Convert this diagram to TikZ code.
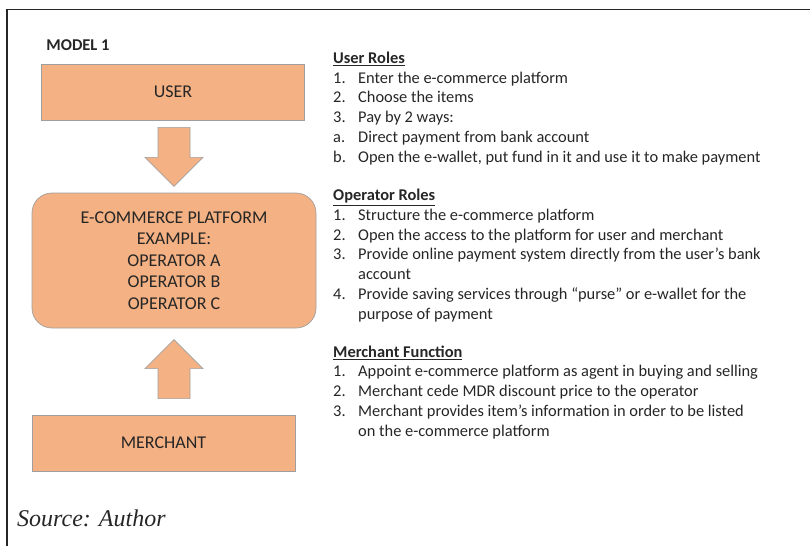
\documentclass[tikz,border=0pt]{standalone}
\usepackage{fontspec}
\setmainfont{Carlito}
\newfontfamily\srcfont{Liberation Serif}
\usetikzlibrary{calc}
\definecolor{boxfill}{RGB}{244,177,131}
\definecolor{textgray}{RGB}{38,38,38}

\begin{document}
\begin{tikzpicture}[
  x=1pt,y=-1pt,
  box/.style={draw=gray!75,fill=boxfill,line width=0.7pt,minimum width=263,minimum height=56,
    inner sep=0pt,text=textgray,font=\fontsize{18}{21.5}\selectfont},
  platform/.style={box,rounded corners=20,minimum width=284,minimum height=135,align=center},
  fatfill/.style={draw=gray!75,fill=boxfill,line width=0.6pt},
  roles/.style={anchor=base west,align=left,inner sep=0pt,text=textgray,
    font=\fontsize{16.4}{19.7}\selectfont},
  fatarrow/.pic={\path[fatfill] (-16,0) -- (16,0) -- (16,30) -- (29,30) -- (0,59) -- (-29,30) -- (-16,30) -- cycle;},
]
\useasboundingbox (0,0) rectangle (810,546);

% ---------- frame ----------
\draw[line width=1.8pt,black!85] (7,546) -- (7,9.5) -- (810,9.5);

% ---------- model (left) ----------
\node[font=\fontsize{16.5}{19}\selectfont\bfseries,text=textgray] (title) at (78,45) {MODEL 1};

\node[box]      (user)     at (173,92)    {USER};
\node[platform] (platform) at (174,260.5) {E-COMMERCE PLATFORM\\EXAMPLE:\\OPERATOR A\\OPERATOR B\\OPERATOR C};
\node[box]      (merchant) at (163.5,443) {MERCHANT};

\pic at ($(user.south)+(1,7)$) {fatarrow};
\pic[rotate=180] at ($(merchant.north)+(10.5,-16)$) {fatarrow};

% ---------- roles (right) ----------
% (base anchor = last line)
\node[roles] (userroles) at (333,162) {\underline{\textbf{User Roles}}\\
  \makebox[25pt][l]{1.}Enter the e-commerce platform\\
  \makebox[25pt][l]{2.}Choose the items\\
  \makebox[25pt][l]{3.}Pay by 2 ways:\\
  \makebox[25pt][l]{a.}Direct payment from bank account\\
  \makebox[25pt][l]{b.}Open the e-wallet, put fund in it and use it to make payment};

\node[roles] (oproles) at (333,319) {\underline{\textbf{Operator Roles}}\\
  \makebox[25pt][l]{1.}Structure the e-commerce platform\\
  \makebox[25pt][l]{2.}Open the access to the platform for user and merchant\\
  \makebox[25pt][l]{3.}Provide online payment system directly from the user’s bank\\
  \hspace*{25pt}account\\
  \makebox[25pt][l]{4.}Provide saving services through “purse” or e-wallet for the\\
  \hspace*{25pt}purpose of payment};

\node[roles] (merchfunc) at (333,436) {\underline{\textbf{Merchant Function}}\\
  \makebox[25pt][l]{1.}Appoint e-commerce platform as agent in buying and selling\\
  \makebox[25pt][l]{2.}Merchant cede MDR discount price to the operator\\
  \makebox[25pt][l]{3.}Merchant provides item’s information in order to be listed\\
  \hspace*{25pt}on the e-commerce platform};

% ---------- source ----------
\node[anchor=west,inner sep=0pt,font=\srcfont\itshape\fontsize{24}{28}\selectfont,text=textgray] (source) at (17,518) {Source: Author};

\end{tikzpicture}
\end{document}
